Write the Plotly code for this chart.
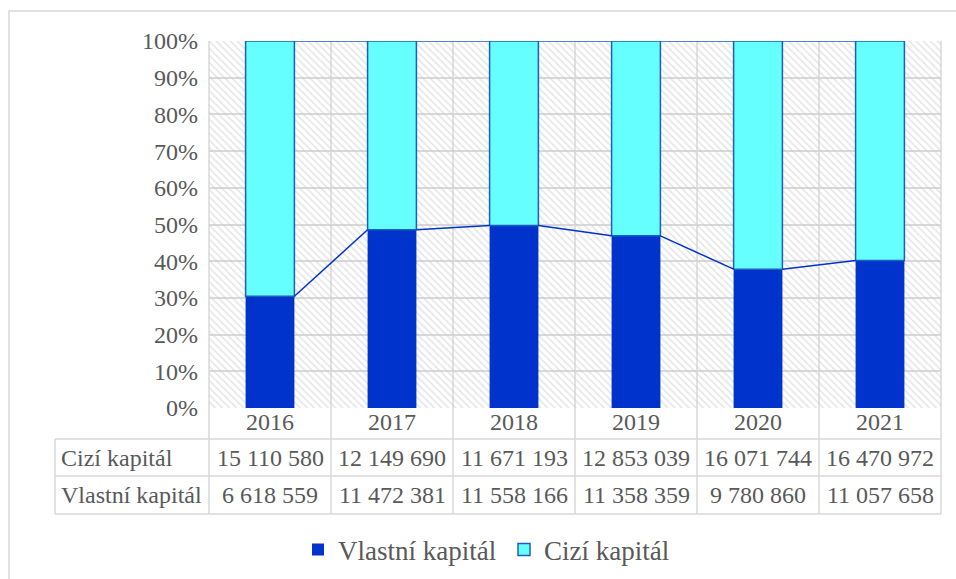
import plotly.graph_objects as go

# Data: capital structure by year (CZK)
years = ["2016", "2017", "2018", "2019", "2020", "2021"]
cizi_kapital = [15110580, 12149690, 11671193, 12853039, 16071744, 16470972]
vlastni_kapital = [6618559, 11472381, 11558166, 11358359, 9780860, 11057658]
row_labels = ["Cizí kapitál", "Vlastní kapitál"]
y_ticks = [0, 10, 20, 30, 40, 50, 60, 70, 80, 90, 100]

# Figure geometry (pixels)
W, H = 956, 579
PL, PR, PT, PB = 209, 941, 41, 408          # plot area edges
TABLE_ROWS = [408, 439, 476, 514]            # table row boundaries
TABLE_LEFT = 55

FONT = "'Liberation Serif', 'Times New Roman', Times, serif"
TXT = "#595959"
GRID = "#D9D9D9"
C_VLASTNI = "#0033CC"
C_CIZI = "#66FFFF"
C_CIZI_LINE = "#1A5FC0"
BAR_W = 0.4


def px_x(p):
    return (p - PL) / (PR - PL)


def px_y(p):
    return (PB - p) / (PB - PT)


n = len(years)
idx = list(range(n))
share_v = [v / (v + c) * 100 for v, c in zip(vlastni_kapital, cizi_kapital)]
share_c = [100 - s for s in share_v]

fig = go.Figure()

# hatched plot background
fig.add_trace(go.Bar(
    x=idx, y=[100] * n, width=[1] * n, base=0,
    marker=dict(color="rgba(0,0,0,0)", line=dict(width=0),
                pattern=dict(shape="\\", fgcolor="#CBCBCB", bgcolor="rgba(0,0,0,0)",
                             size=5, solidity=0.32)),
    showlegend=False, hoverinfo="skip",
))

fig.add_trace(go.Bar(
    x=idx, y=share_v, base=[0] * n, width=BAR_W, name="Vlastní kapitál",
    marker=dict(color=C_VLASTNI, line=dict(width=0)),
))
fig.add_trace(go.Bar(
    x=idx, y=share_c, base=share_v, width=BAR_W, name="Cizí kapitál",
    marker=dict(color=C_CIZI, line=dict(color=C_CIZI_LINE, width=1.5)),
))

# series lines joining neighbouring bars
lx, ly, tx, ty = [], [], [], []
for i in range(n - 1):
    lx += [i + BAR_W / 2, i + 1 - BAR_W / 2, None]
    ly += [share_v[i], share_v[i + 1], None]
    tx += [i + BAR_W / 2, i + 1 - BAR_W / 2, None]
    ty += [100, 100, None]
fig.add_trace(go.Scatter(x=lx, y=ly, mode="lines", line=dict(color=C_VLASTNI, width=1.5),
                         showlegend=False, hoverinfo="skip"))
fig.add_trace(go.Scatter(x=tx, y=ty, mode="lines", line=dict(color=C_CIZI_LINE, width=1.5),
                         showlegend=False, hoverinfo="skip", cliponaxis=False))

shapes = []
# vertical lines through plot and data table
for k in range(n + 1):
    shapes.append(dict(type="line", xref="paper", yref="paper",
                       x0=k / n, x1=k / n, y0=px_y(TABLE_ROWS[-1]), y1=1,
                       line=dict(color=GRID, width=1.5), layer="below"))
# table horizontal lines
for r in TABLE_ROWS[1:]:
    shapes.append(dict(type="line", xref="paper", yref="paper",
                       x0=px_x(TABLE_LEFT), x1=1, y0=px_y(r), y1=px_y(r),
                       line=dict(color=GRID, width=1.5), layer="below"))
shapes.append(dict(type="line", xref="paper", yref="paper",
                   x0=px_x(TABLE_LEFT), x1=px_x(TABLE_LEFT),
                   y0=px_y(TABLE_ROWS[1]), y1=px_y(TABLE_ROWS[-1]),
                   line=dict(color=GRID, width=1.5), layer="below"))
# chart outer frame
shapes.append(dict(type="rect", xref="paper", yref="paper",
                   x0=px_x(9), x1=px_x(W + 5), y0=px_y(H + 5), y1=px_y(11),
                   line=dict(color=GRID, width=1.5), layer="below"))

annotations = []
rows = [cizi_kapital, vlastni_kapital]
for r, (label, vals) in enumerate(zip(row_labels, rows)):
    yc = px_y((TABLE_ROWS[r + 1] + TABLE_ROWS[r + 2]) / 2)
    annotations.append(dict(text=label, xref="paper", yref="paper", x=px_x(TABLE_LEFT + 4),
                            y=yc, xanchor="left", yanchor="middle", showarrow=False,
                            font=dict(family=FONT, size=24, color=TXT)))
    for i, v in enumerate(vals):
        annotations.append(dict(text=f"{v:,}".replace(",", " "), xref="x", yref="paper",
                                x=i, y=yc, xanchor="center", yanchor="middle",
                                showarrow=False, font=dict(family=FONT, size=24, color=TXT)))

fig.update_layout(
    width=W, height=H,
    margin=dict(l=PL, r=W - PR, t=PT, b=H - PB, pad=0, autoexpand=False),
    paper_bgcolor="white", plot_bgcolor="white",
    barmode="overlay",
    font=dict(family=FONT, size=24, color=TXT),
    xaxis=dict(range=[-0.5, n - 0.5], tickvals=idx, ticktext=years, showgrid=False,
               zeroline=False, showline=False, ticks="", ticklabelstandoff=-3,
               tickfont=dict(family=FONT, size=24, color=TXT), fixedrange=True),
    yaxis=dict(range=[0, 100], tickvals=y_ticks, ticktext=[f"{t}%" for t in y_ticks],
               showgrid=True, gridcolor=GRID, gridwidth=1.5, zeroline=False, showline=False,
               ticks="", ticklabelstandoff=10,
               tickfont=dict(family=FONT, size=24, color=TXT), fixedrange=True),
    legend=dict(orientation="h", x=px_x(504), xanchor="center", y=px_y(550),
                yanchor="middle", font=dict(family=FONT, size=27, color=TXT),
                bgcolor="rgba(0,0,0,0)", traceorder="normal", entrywidth=161),
    shapes=shapes, annotations=annotations,
)

fig.write_html("out.html")
